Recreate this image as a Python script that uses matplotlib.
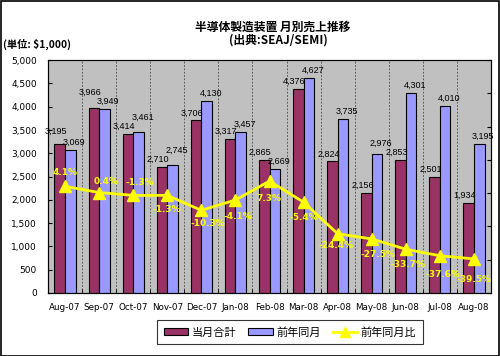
import matplotlib.pyplot as plt
import matplotlib.patches as mpatches
from matplotlib.lines import Line2D
import numpy as np

plt.rcParams['font.family'] = ['Noto Sans CJK JP', 'DejaVu Sans']

months = ["Aug-07", "Sep-07", "Oct-07", "Nov-07", "Dec-07", "Jan-08", "Feb-08",
          "Mar-08", "Apr-08", "May-08", "Jun-08", "Jul-08", "Aug-08"]
current = [3195, 3966, 3414, 2710, 3706, 3317, 2865, 4376, 2824, 2156, 2853, 2501, 1934]
prev_year = [3069, 3949, 3461, 2745, 4130, 3457, 2669, 4627, 3735, 2976, 4301, 4010, 3195]
yoy = [4.1, 0.4, -1.3, -1.3, -10.3, -4.1, 7.3, -5.4, -24.4, -27.5, -33.7, -37.6, -39.5]

# label offsets (pixels), roughly like the original
pct_off = [(0, 14), (7, 11), (7, 13), (0, -14), (7, -13), (2, -16), (-1, -17),
           (0, -15), (-2, -12), (6, -16), (2, -15), (3, -19), (0, -21)]
lift_cur = [5, 8, 0, 0, 0, 0, 0, 0, 0, 0, 0, 0, 0]
lift_prev = [0, 0, 7, 7, 0, 0, 0, 0, 0, 4, 0, 0, 0]

maroon = "#993366"
lilac = "#9999FF"
yellow = "#FFFF00"
numfont = ["Liberation Sans Narrow", "Liberation Sans", "DejaVu Sans"]

fig = plt.figure(figsize=(5, 3.56), dpi=100)
ax = fig.add_axes([0.096, 0.177, 0.886, 0.654])
ax.set_facecolor("#C0C0C0")

x = np.arange(len(months))
w = 0.31
ax.bar(x - w / 2, current, w, color=maroon, edgecolor="black", linewidth=0.8, zorder=3)
ax.bar(x + w / 2, prev_year, w, color=lilac, edgecolor="black", linewidth=0.8, zorder=3)

for i in range(len(months)):
    ax.annotate(f"{current[i]:,}", (x[i] - w / 2, current[i]), xytext=(-4, 3 + lift_cur[i]),
                textcoords="offset pixels", ha="center", va="bottom", fontsize=6.5,
                family=numfont, zorder=5)
    ax.annotate(f"{prev_year[i]:,}", (x[i] + w / 2, prev_year[i]), xytext=(4, 3 + lift_prev[i]),
                textcoords="offset pixels", ha="center", va="bottom", fontsize=6.5,
                family=numfont, zorder=5)

ax.set_xlim(-0.5, len(months) - 0.5)
ax.set_ylim(0, 5000)
ax.set_yticks(range(0, 5001, 500))
ax.set_yticklabels([f"{v:,}" for v in range(0, 5001, 500)], fontsize=6.5, family="DejaVu Sans")
ax.set_xticks(x)
ax.set_xticklabels(months, fontsize=6.3, family="DejaVu Sans")
ax.set_xticks(np.arange(-0.5, len(months)), minor=True)
ax.tick_params(axis="x", which="major", length=0, pad=7)
ax.tick_params(axis="x", which="minor", direction="in", length=3)
ax.tick_params(axis="y", direction="in", length=3, pad=8)
ax.grid(axis="x", which="minor", color="#444444", linestyle=(0, (2, 2)), linewidth=0.6, zorder=1)

ax.spines["top"].set_linestyle((0, (1, 1)))
ax.spines["top"].set_color("#555555")
ax.spines["right"].set_color("#555555")

ax2 = ax.twinx()
ax2.set_ylim(-60, 80)
ax2.set_yticks(range(-60, 81, 20))
ax2.set_yticklabels([])
ax2.tick_params(axis="y", direction="in", length=3)
ax2.plot(x, yoy, color=yellow, linewidth=2, marker="^", markersize=8, zorder=6)
for i in range(len(months)):
    ax2.annotate(f"{yoy[i]:.1f}%", (x[i], yoy[i]), xytext=pct_off[i],
                 textcoords="offset pixels", ha="center", va="center", fontsize=6.5,
                 fontweight="bold", color=yellow, family="DejaVu Sans", zorder=7)

fig.text(0.546, 0.924, "半導体製造装置 月別売上推移", ha="center", va="center",
         fontsize=8.5, fontweight="bold")
fig.text(0.556, 0.887, "(出典:SEAJ/SEMI)", ha="center", va="center",
         fontsize=8.5, fontweight="bold")
fig.text(0.006, 0.876, "(単位: $1,000)", ha="left", va="center", fontsize=7.4,
         fontweight="bold", family=["Noto Sans CJK JP", "DejaVu Sans"])

handles = [mpatches.Patch(facecolor=maroon, edgecolor="black", linewidth=0.8),
           mpatches.Patch(facecolor=lilac, edgecolor="black", linewidth=0.8),
           Line2D([], [], color=yellow, linewidth=2, marker="^", markersize=7)]
leg = fig.legend(handles, ["当月合計", "前年同月", "前年同月比"], loc="center",
                 bbox_to_anchor=(0.58, 0.067), ncol=3, fontsize=8, frameon=True,
                 fancybox=False, edgecolor="black", handlelength=2.2, handleheight=0.5,
                 columnspacing=1.1, handletextpad=0.3, borderpad=0.6)
leg.get_frame().set_linewidth(0.8)

fig.patches.append(mpatches.Rectangle((0.001, 0.001), 0.997, 0.996, transform=fig.transFigure,
                                      fill=False, edgecolor="black", linewidth=1.2))

fig.savefig("out.png", dpi=100)
